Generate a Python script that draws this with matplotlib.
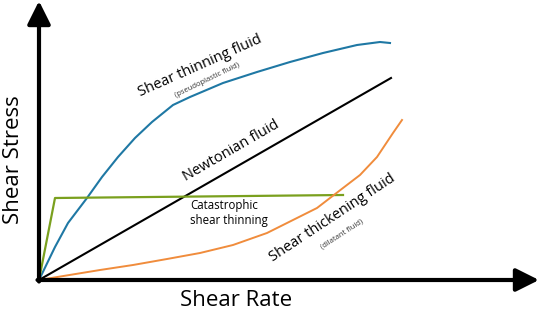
import matplotlib
matplotlib.use('Agg')
import matplotlib.pyplot as plt

plt.rcParams['font.family'] = ['Open Sans', 'DejaVu Sans']

# curves (arbitrary units, origin at the axes corner)
thinning_x = [0, 16, 29, 48, 63, 79, 96, 113, 134, 151, 184, 218, 251, 284, 318, 341, 351]
thinning_y = [0, 33, 57, 82, 103, 123, 142, 158, 175, 183, 197, 208, 218, 227, 235, 238, 237]

newtonian_x = [0, 352]
newtonian_y = [0, 202]

catastrophic_x = [0, 16, 304]
catastrophic_y = [0, 82, 85]

thickening_x = [0, 61, 94, 128, 161, 194, 228, 254, 278, 291, 304, 321, 338, 354, 363]
thickening_y = [0, 10, 15, 21, 27, 35, 47, 60, 72, 82, 92, 105, 123, 147, 160]

if __name__ == '__main__':
    fig = plt.figure(figsize=(5.4, 3.09), dpi=100)
    ax = fig.add_axes([0, 0, 1, 1])
    ax.set_xlim(-39, 501)
    ax.set_ylim(-29, 280)
    ax.axis('off')

    ax.plot(thinning_x, thinning_y, color='#1f78a4', lw=1.5, solid_joinstyle='round')
    ax.plot(newtonian_x, newtonian_y, color='black', lw=1.5)
    ax.plot(catastrophic_x, catastrophic_y, color='#7aa01e', lw=1.6)
    ax.plot(thickening_x, thickening_y, color='#f08c3c', lw=1.4, solid_joinstyle='round')

    # axes with arrow heads
    arrow = dict(arrowstyle='-|>,head_length=0.7,head_width=0.35', lw=3,
                 color='black', shrinkA=0, shrinkB=0, mutation_scale=20)
    ax.annotate('', xy=(0, 279), xytext=(0, -1.5), arrowprops=arrow)
    ax.annotate('', xy=(500, 0), xytext=(-1.5, 0), arrowprops=arrow)

    ax.text(-26, 120, 'Shear Stress', rotation=90, fontsize=16,
            ha='center', va='center')
    ax.text(197, -25.5, 'Shear Rate', fontsize=16, ha='center', va='baseline')

    ax.text(161, 214, 'Shear thinning fluid', rotation=24, fontsize=10.5,
            ha='center', va='center', rotation_mode='anchor')
    ax.text(168, 200, '(pseudoplastic fluid)', rotation=26, fontsize=5.5,
            ha='center', va='center', rotation_mode='anchor', color='#333333')
    ax.text(192, 129, 'Newtonian fluid', rotation=30, fontsize=10.5,
            ha='center', va='center', rotation_mode='anchor')
    ax.text(151, 67, 'Catastrophic\nshear thinning', fontsize=8.3,
            ha='left', va='center', linespacing=1.2)
    ax.text(293, 62, 'Shear thickening fluid', rotation=33.5, fontsize=10.5,
            ha='center', va='center', rotation_mode='anchor')
    ax.text(303, 46, '(dilatant fluid)', rotation=33, fontsize=5.5,
            ha='center', va='center', rotation_mode='anchor', color='#333333')

    fig.savefig('out.png', dpi=100)
    plt.close()
